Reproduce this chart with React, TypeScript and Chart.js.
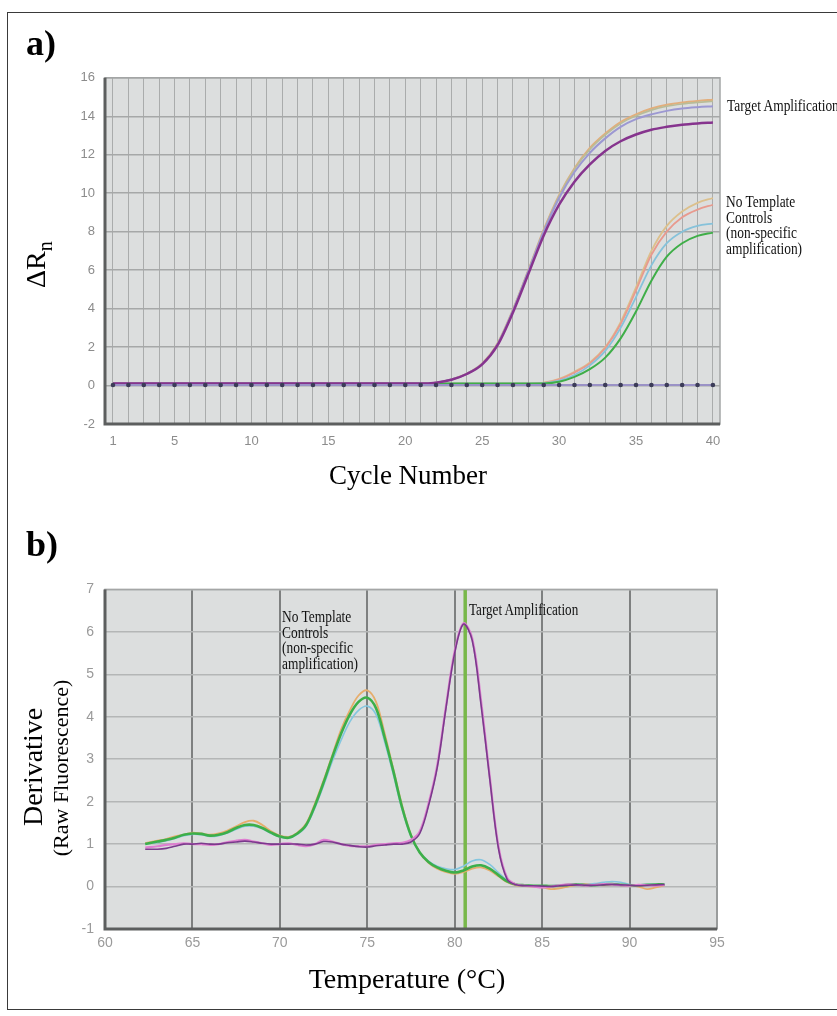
import React, { useEffect, useRef } from "react";
import { Chart, registerables } from "chart.js";
Chart.register(...registerables);

// ---------- Panel a) amplification plot ----------
const cycles = [1, 2, 3, 4, 5, 6, 7, 8, 9, 10, 11, 12, 13, 14, 15, 16, 17, 18, 19, 20, 21, 22, 23, 24, 25, 26, 27, 28, 29, 30, 31, 32, 33, 34, 35, 36, 37, 38, 39, 40];
const cycleTickLabels = [1, 5, 10, 15, 20, 25, 30, 35, 40];

const targetOrange = [0.1, 0.1, 0.1, 0.1, 0.1, 0.1, 0.1, 0.1, 0.1, 0.1, 0.1, 0.1, 0.1, 0.1, 0.1, 0.1, 0.1, 0.1, 0.1, 0.1, 0.1, 0.15, 0.32, 0.62, 1.15, 2.2, 3.95, 6.0, 8.1, 9.9, 11.3, 12.35, 13.1, 13.7, 14.1, 14.4, 14.6, 14.72, 14.8, 14.86];
const targetSage = [0.1, 0.1, 0.1, 0.1, 0.1, 0.1, 0.1, 0.1, 0.1, 0.1, 0.1, 0.1, 0.1, 0.1, 0.1, 0.1, 0.1, 0.1, 0.1, 0.1, 0.1, 0.15, 0.32, 0.62, 1.14, 2.18, 3.93, 5.98, 8.07, 9.86, 11.25, 12.28, 13.03, 13.62, 14.02, 14.32, 14.52, 14.64, 14.72, 14.78];
const targetLavender = [0.1, 0.1, 0.1, 0.1, 0.1, 0.1, 0.1, 0.1, 0.1, 0.1, 0.1, 0.1, 0.1, 0.1, 0.1, 0.1, 0.1, 0.1, 0.1, 0.1, 0.1, 0.15, 0.31, 0.61, 1.12, 2.15, 3.9, 5.95, 8.0, 9.75, 11.1, 12.1, 12.85, 13.45, 13.85, 14.1, 14.28, 14.4, 14.47, 14.52];
const targetPurple = [0.1, 0.1, 0.1, 0.1, 0.1, 0.1, 0.1, 0.1, 0.1, 0.1, 0.1, 0.1, 0.1, 0.1, 0.1, 0.1, 0.1, 0.1, 0.1, 0.1, 0.1, 0.15, 0.3, 0.6, 1.1, 2.1, 3.8, 5.8, 7.8, 9.4, 10.6, 11.5, 12.2, 12.7, 13.05, 13.3, 13.45, 13.56, 13.63, 13.68];

const ntcOrange = [0.1, 0.1, 0.1, 0.1, 0.1, 0.1, 0.1, 0.1, 0.1, 0.1, 0.1, 0.1, 0.1, 0.1, 0.1, 0.1, 0.1, 0.1, 0.1, 0.1, 0.1, 0.1, 0.1, 0.1, 0.1, 0.1, 0.1, 0.1, 0.15, 0.35, 0.72, 1.2, 2.0, 3.3, 5.1, 7.0, 8.3, 9.05, 9.5, 9.75];
const ntcPink = [0.1, 0.1, 0.1, 0.1, 0.1, 0.1, 0.1, 0.1, 0.1, 0.1, 0.1, 0.1, 0.1, 0.1, 0.1, 0.1, 0.1, 0.1, 0.1, 0.1, 0.1, 0.1, 0.1, 0.1, 0.1, 0.1, 0.1, 0.1, 0.14, 0.32, 0.68, 1.15, 1.95, 3.2, 4.95, 6.8, 8.0, 8.75, 9.15, 9.4];
const ntcBlue = [0.1, 0.1, 0.1, 0.1, 0.1, 0.1, 0.1, 0.1, 0.1, 0.1, 0.1, 0.1, 0.1, 0.1, 0.1, 0.1, 0.1, 0.1, 0.1, 0.1, 0.1, 0.1, 0.1, 0.1, 0.1, 0.1, 0.1, 0.1, 0.12, 0.25, 0.55, 1.05, 1.8, 3.0, 4.6, 6.25, 7.4, 8.0, 8.3, 8.42];
const ntcGreen = [0.1, 0.1, 0.1, 0.1, 0.1, 0.1, 0.1, 0.1, 0.1, 0.1, 0.1, 0.1, 0.1, 0.1, 0.1, 0.1, 0.1, 0.1, 0.1, 0.1, 0.1, 0.1, 0.1, 0.1, 0.1, 0.1, 0.1, 0.1, 0.11, 0.2, 0.45, 0.85, 1.45, 2.45, 3.85, 5.45, 6.7, 7.4, 7.78, 7.95];
const baselineDots = [0.03, 0.03, 0.03, 0.03, 0.03, 0.03, 0.03, 0.03, 0.03, 0.03, 0.03, 0.03, 0.03, 0.03, 0.03, 0.03, 0.03, 0.03, 0.03, 0.03, 0.03, 0.03, 0.03, 0.03, 0.03, 0.03, 0.03, 0.03, 0.03, 0.03, 0.03, 0.03, 0.03, 0.03, 0.03, 0.03, 0.03, 0.03, 0.03, 0.03];

// ---------- Panel b) melt curve ----------
const temps = [62.3, 63, 63.5, 64, 64.5, 65, 65.5, 66, 66.5, 67, 67.5, 68, 68.5, 69, 69.5, 70, 70.5, 71, 71.5, 72, 72.5, 73, 73.5, 74, 74.5, 75, 75.5, 76, 76.5, 77, 77.5, 78, 78.5, 79, 79.5, 80, 80.5, 81, 81.5, 82, 82.5, 83, 83.5, 84, 84.5, 85, 85.5, 86, 86.5, 87, 87.5, 88, 88.5, 89, 89.5, 90, 90.5, 91, 91.5, 92];
const meltGreen = [1.0, 1.06, 1.1, 1.15, 1.22, 1.25, 1.24, 1.2, 1.22, 1.28, 1.38, 1.45, 1.45, 1.38, 1.27, 1.18, 1.15, 1.25, 1.45, 1.9, 2.45, 3.05, 3.6, 4.05, 4.35, 4.45, 4.2, 3.5, 2.7, 1.85, 1.2, 0.8, 0.58, 0.45, 0.37, 0.33, 0.38, 0.47, 0.5, 0.42, 0.27, 0.12, 0.05, 0.03, 0.02, 0.02, 0.01, 0.02, 0.04, 0.05, 0.03, 0.03, 0.05, 0.06, 0.04, 0.03, 0.03, 0.04, 0.05, 0.05];
const meltOrange = [1.02, 1.08, 1.12, 1.18, 1.22, 1.27, 1.25, 1.22, 1.25, 1.32, 1.42, 1.52, 1.55, 1.45, 1.3, 1.2, 1.17, 1.27, 1.48, 1.95, 2.5, 3.1, 3.7, 4.15, 4.5, 4.62, 4.35, 3.6, 2.75, 1.9, 1.22, 0.8, 0.56, 0.42, 0.34, 0.3, 0.34, 0.42, 0.45, 0.38, 0.24, 0.1, 0.03, 0.01, 0.0, -0.02, -0.06, -0.04, 0.0, 0.04, 0.06, 0.05, 0.03, 0.05, 0.03, 0.02, 0.0, -0.06, -0.02, 0.03];
const meltCyan = [1.0, 1.04, 1.08, 1.13, 1.2, 1.23, 1.22, 1.18, 1.2, 1.26, 1.35, 1.42, 1.42, 1.36, 1.25, 1.17, 1.14, 1.23, 1.42, 1.85, 2.38, 2.95, 3.45, 3.88, 4.15, 4.25, 4.05, 3.4, 2.62, 1.8, 1.18, 0.8, 0.6, 0.48, 0.42, 0.4, 0.48, 0.6, 0.63, 0.52, 0.33, 0.14, 0.05, 0.03, 0.02, 0.02, 0.02, 0.03, 0.05, 0.06, 0.05, 0.07, 0.1, 0.12, 0.1, 0.05, 0.04, 0.05, 0.05, 0.05];
const meltTargetPurple = [0.88, 0.88, 0.9, 0.95, 1.0, 1.0, 1.02, 1.0, 1.0, 1.03, 1.05, 1.07, 1.05, 1.02, 1.0, 1.0, 1.0, 1.0, 0.98, 1.0, 1.06, 1.05, 1.0, 0.97, 0.94, 0.93, 0.96, 0.98, 1.0, 1.0, 1.05, 1.25, 1.9, 2.8, 4.2, 5.5, 6.18, 5.8, 4.3, 2.55, 0.9, 0.17, 0.04, 0.02, 0.02, 0.01, 0.0, 0.02, 0.03, 0.04, 0.03, 0.03, 0.04, 0.05, 0.04, 0.03, 0.02, 0.03, 0.04, 0.05];
const meltTargetPink = [0.92, 0.95, 0.98, 1.0, 1.02, 1.0, 1.0, 0.98, 1.0, 1.05, 1.08, 1.1, 1.06, 1.02, 0.98, 1.0, 1.02, 0.98, 0.95, 1.0, 1.1, 1.06, 1.0, 0.96, 0.95, 0.95, 0.98, 1.0, 1.02, 1.03, 1.1, 1.3, 1.95, 2.85, 4.25, 5.55, 6.2, 5.85, 4.4, 2.6, 0.95, 0.2, 0.05, 0.02, 0.0, -0.02, 0.0, 0.03, 0.05, 0.04, 0.02, 0.04, 0.06, 0.05, 0.03, 0.02, 0.04, 0.03, 0.02, 0.04];
const thresholdTemp = 80.6;

const plotFrame = {
  id: "plotFrame",
  beforeDraw(chart: any) {
    const { ctx, chartArea } = chart;
    const { left, top, right, bottom } = chartArea;
    ctx.save();
    ctx.fillStyle = "#dcdede";
    ctx.fillRect(left, top, right - left, bottom - top);
    ctx.restore();
  },
  afterDraw(chart: any) {
    const { ctx, chartArea } = chart;
    const { left, top, right, bottom } = chartArea;
    ctx.save();
    ctx.strokeStyle = "#a4a6a6";
    ctx.lineWidth = 1.5;
    ctx.strokeRect(left, top, right - left, bottom - top);
    ctx.strokeStyle = "#5c5e5e";
    ctx.lineWidth = 3;
    ctx.beginPath();
    ctx.moveTo(left, top);
    ctx.lineTo(left, bottom);
    ctx.lineTo(right, bottom);
    ctx.stroke();
    ctx.restore();
  },
};

const tickFont = { family: "Liberation Sans, Arial, sans-serif", size: 13 };

function line(data: number[], color: string, width = 2) {
  return {
    data: cycles.map((c, i) => ({ x: c, y: data[i] })),
    borderColor: color,
    borderWidth: width,
    pointRadius: 0,
    cubicInterpolationMode: "monotone" as const,
    fill: false,
  };
}

function melt(data: number[], color: string, width = 2) {
  return {
    data: temps.map((t, i) => ({ x: t, y: data[i] })),
    borderColor: color,
    borderWidth: width,
    pointRadius: 0,
    tension: 0.35,
    fill: false,
  };
}

export default function App() {
  const ref1 = useRef<HTMLCanvasElement>(null);
  const ref2 = useRef<HTMLCanvasElement>(null);

  useEffect(() => {
    const c1 = new Chart(ref1.current as HTMLCanvasElement, {
      type: "line",
      data: {
        datasets: [
          {
            data: cycles.map((c, i) => ({ x: c, y: baselineDots[i] })),
            borderColor: "#9a92c6",
            borderWidth: 2,
            pointRadius: 2.3,
            pointBackgroundColor: "#3c3c58",
            pointBorderWidth: 0,
            fill: false,
          },
          line(targetPurple, "#86348e", 2.5),
          line(targetLavender, "#9c98d2", 2),
          line(targetSage, "#b8bc98", 1.6),
          line(targetOrange, "#e2ae7c", 2),
          line(ntcGreen, "#3fae48", 2),
          line(ntcBlue, "#86c2da", 1.8),
          line(ntcPink, "#e89a8e", 1.8),
          line(ntcOrange, "#dcc08c", 1.8),
        ] as any,
      },
      options: {
        animation: false,
        responsive: false,
        events: [],
        layout: { padding: { top: 14, right: 15, bottom: 6, left: 0 } },
        plugins: { legend: { display: false }, tooltip: { enabled: false } },
        scales: {
          x: {
            type: "linear",
            min: 0.48,
            max: 40.46,
            afterBuildTicks: (scale: any) => {
              scale.ticks = cycles.map((v) => ({ value: v }));
            },
            afterFit: (scale: any) => {
              scale.height = 30;
            },
            ticks: {
              autoSkip: false,
              maxRotation: 0,
              padding: 10,
              color: "#8c8c8c",
              font: tickFont,
              callback: (v: any) => (cycleTickLabels.includes(Number(v)) ? String(v) : ""),
            },
            grid: { color: "#aaacac", lineWidth: 1, drawTicks: false },
            border: { display: false },
          },
          y: {
            type: "linear",
            min: -2,
            max: 16,
            afterFit: (scale: any) => {
              scale.width = 50;
            },
            ticks: { stepSize: 2, padding: 10, color: "#8c8c8c", font: tickFont },
            grid: { color: "#a6a8a8", lineWidth: 1.5, drawTicks: false },
            border: { display: false },
          },
        },
      },
      plugins: [plotFrame],
    });

    const c2 = new Chart(ref2.current as HTMLCanvasElement, {
      type: "line",
      data: {
        datasets: [
          melt(meltTargetPurple, "#7a3a8c", 1.6),
          melt(meltTargetPink, "#de7fd0", 2.2),
          melt(meltGreen, "#3caf4a", 2.6),
          melt(meltCyan, "#84c6df", 1.6),
          melt(meltOrange, "#e6ad6c", 1.8),
          {
            data: [
              { x: thresholdTemp, y: -1 },
              { x: thresholdTemp, y: 7 },
            ],
            borderColor: "#78b84a",
            borderWidth: 3.5,
            pointRadius: 0,
            fill: false,
          },
        ] as any,
      },
      options: {
        animation: false,
        responsive: false,
        events: [],
        layout: { padding: { top: 17, right: 18, bottom: 11, left: 0 } },
        plugins: { legend: { display: false }, tooltip: { enabled: false } },
        scales: {
          x: {
            type: "linear",
            min: 60,
            max: 95,
            afterFit: (scale: any) => {
              scale.height = 30;
            },
            ticks: { stepSize: 5, padding: 6, color: "#9a9a9a", font: { ...tickFont, size: 14 }, maxRotation: 0 },
            grid: { color: "#7e8080", lineWidth: 2, drawTicks: false },
            border: { display: false },
          },
          y: {
            type: "linear",
            min: -1,
            max: 7,
            afterFit: (scale: any) => {
              scale.width = 50;
            },
            ticks: { stepSize: 1, padding: 11, color: "#9a9a9a", font: { ...tickFont, size: 14 } },
            grid: { color: "#b4b6b6", lineWidth: 1.5, drawTicks: false },
            border: { display: false },
          },
        },
      },
      plugins: [plotFrame],
    });

    return () => {
      c1.destroy();
      c2.destroy();
    };
  }, []);

  const serif = "Liberation Serif, Times New Roman, serif";
  const note = (x: number, y: number, lines: string[], sx = 0.84) => (
    <g transform={`translate(${x},${y}) scale(${sx},1)`}>
      {lines.map((l, i) => (
        <text key={i} x={0} y={i * 15.7} fontFamily={serif} fontSize={16} fill="#111">
          {l}
        </text>
      ))}
    </g>
  );

  return (
    <div style={{ position: "absolute", left: 0, top: 0, width: 837, height: 1016, overflow: "hidden", background: "#fff" }}>
      <div
        style={{
          position: "absolute",
          left: 7,
          top: 12,
          width: 860,
          height: 998,
          border: "1.5px solid #3a3a3a",
          boxSizing: "border-box",
        }}
      />
      <div style={{ position: "absolute", left: 55, top: 60, width: 680, height: 400 }}>
        <canvas ref={ref1} width={680} height={400} />
      </div>
      <div style={{ position: "absolute", left: 55, top: 570, width: 680, height: 400 }}>
        <canvas ref={ref2} width={680} height={400} />
      </div>
      <svg width={837} height={1016} style={{ position: "absolute", left: 0, top: 0, pointerEvents: "none" }}>
        <text x={26} y={55} fontFamily={serif} fontWeight="bold" fontSize={36} fill="#000">
          a)
        </text>
        <text x={26} y={556} fontFamily={serif} fontWeight="bold" fontSize={36} fill="#000">
          b)
        </text>
        <text transform="translate(45,288) rotate(-90)" fontFamily={serif} fontSize={28} fill="#000">
          ΔR
          <tspan fontSize={20} dy={7}>
            n
          </tspan>
        </text>
        <text x={408} y={484} textAnchor="middle" fontFamily={serif} fontSize={27} fill="#000">
          Cycle Number
        </text>
        <text transform="translate(42,767) rotate(-90)" textAnchor="middle" fontFamily={serif} fontSize={28} fill="#000">
          Derivative
        </text>
        <text transform="translate(68,768) rotate(-90)" textAnchor="middle" fontFamily={serif} fontSize={22} fill="#000">
          (Raw Fluorescence)
        </text>
        <text x={407} y={988} textAnchor="middle" fontFamily={serif} fontSize={28} fill="#000">
          Temperature (°C)
        </text>
        {note(727, 111, ["Target Amplification"])}
        {note(726, 207, ["No Template", "Controls", "(non-specific", "amplification)"])}
        {note(469, 615, ["Target Amplification"], 0.82)}
        {note(282, 622, ["No Template", "Controls", "(non-specific", "amplification)"])}
      </svg>
    </div>
  );
}
